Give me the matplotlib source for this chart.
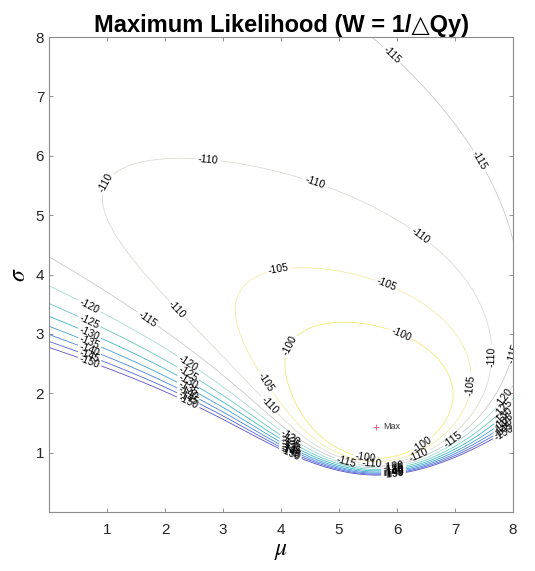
import math
import numpy as np
import matplotlib
matplotlib.use("Agg")
import matplotlib.pyplot as plt

# binned Qy data: bin centres and weights W = 1/dQy
qy = np.array([2, 3, 4, 5, 6, 7, 8, 9])
weights = np.array([0.765, 2.3, 7.2, 11.417, 12.967, 8.6, 3.75, 0.965])
q_min, q_max = 1.0, 13.0          # fit window (truncation)

levels = np.arange(-150, -99, 5)
level_colors = ["#5a4fc8", "#4f66d8", "#4a84dc", "#3f9fd6", "#3fb5c6", "#6cc9c0",
                "#a9dad6", "#c9c9c9", "#dcdcd4", "#f2eca8", "#f3ea78"]

# label placement as in the original: (mu, sigma, level)
label_spots = [(5.88, 7.67, -115), (7.38, 5.90, -115), (7.95, 3.24, -115), (7.09, 1.05, -115),
               (5.14, 0.89, -115), (1.69, 3.24, -115),
               (4.62, 5.65, -110), (2.74, 6.05, -110), (1.0, 5.53, -110), (6.43, 4.69, -110),
               (7.64, 2.61, -110), (2.2, 3.42, -110), (3.81, 1.80, -110), (5.57, 0.84, -110),
               (6.43, 0.84, -110),
               (5.83, 3.85, -105), (3.95, 4.15, -105), (7.29, 2.14, -105), (3.69, 2.16, -105),
               (6.02, 2.87, -100), (4.27, 2.73, -100), (5.48, 1.01, -100), (6.45, 1.10, -100)]
stack_columns = [0.7, 2.4, 4.15, 5.95, 7.85]   # label stacks on the steep edge

erfc = np.vectorize(math.erfc)


def Phi(z):
    return 0.5 * erfc(-z / np.sqrt(2))


def log_likelihood(mu, sig):
    # weighted log-likelihood of a normal truncated to [q_min, q_max]
    Z = np.maximum(Phi((mu - q_min) / sig) - Phi((mu - q_max) / sig), 1e-300)
    x = qy[None, None, :]
    lp = (-0.5 * np.log(2 * np.pi) - np.log(sig[..., None])
          - (x - mu[..., None]) ** 2 / (2 * sig[..., None] ** 2))
    return (weights * lp).sum(axis=-1) - weights.sum() * np.log(Z)


mu = np.linspace(0, 8, 401)
sig = np.linspace(0.2, 8, 391)
MU, SG = np.meshgrid(mu, sig)
LL = log_likelihood(MU, SG)

plt.rcParams["font.family"] = ["Liberation Sans", "DejaVu Sans"]
plt.rcParams["mathtext.fontset"] = "stix"

fig = plt.figure(figsize=(5.35, 5.71), dpi=100)
ax = fig.add_axes([0.0916, 0.1033, 0.8674, 0.8317])
cs = ax.contour(MU, SG, LL, levels=levels, colors=level_colors, linewidths=0.6)

spots = list(label_spots)
for c in stack_columns:
    ix = np.argmin(np.abs(mu - c))
    for lev in levels[:7]:
        iy = np.argmax(LL[:, ix] >= lev)
        spots.append((mu[ix], sig[iy], lev))

# snap every spot onto its own level's line
paths = cs.get_paths()
manual = []
for x, y, lev in spots:
    k = int(np.argmin(np.abs(levels - lev)))
    v = paths[k].vertices
    if len(v) == 0:
        continue
    j = np.argmin((v[:, 0] - x) ** 2 + (v[:, 1] - y) ** 2)
    manual.append((v[j, 0], v[j, 1]))
ax.clabel(cs, fmt="%d", fontsize=7.5, colors="k", inline_spacing=2, manual=manual)

iy, ix = np.unravel_index(np.argmax(LL), LL.shape)
ax.plot(mu[ix], sig[iy], "+", color="#e07090", ms=5, mew=0.8)
ax.text(mu[ix] + 0.12, sig[iy], "Max", fontsize=6.5, va="center", color="#333333")

ax.set_xlim(0, 8)
ax.set_ylim(0, 8)
ax.set_xticks(range(1, 9))
ax.set_yticks(range(1, 9))
ax.tick_params(direction="in", top=True, right=True, length=3, width=0.6,
               color="#808080", labelcolor="#262626", labelsize=11)
ax.tick_params(axis="x", pad=8)
for sp in ax.spines.values():
    sp.set_color("#8c8c8c")
    sp.set_linewidth(0.8)
ax.set_xlabel(r"$\mu$", fontsize=17, labelpad=2)
ax.set_ylabel(r"$\sigma$", fontsize=17)
ax.set_title("Maximum Likelihood (W = 1/\u25b3Qy)", fontsize=17, fontweight="bold", pad=4)

fig.savefig("out.png")
